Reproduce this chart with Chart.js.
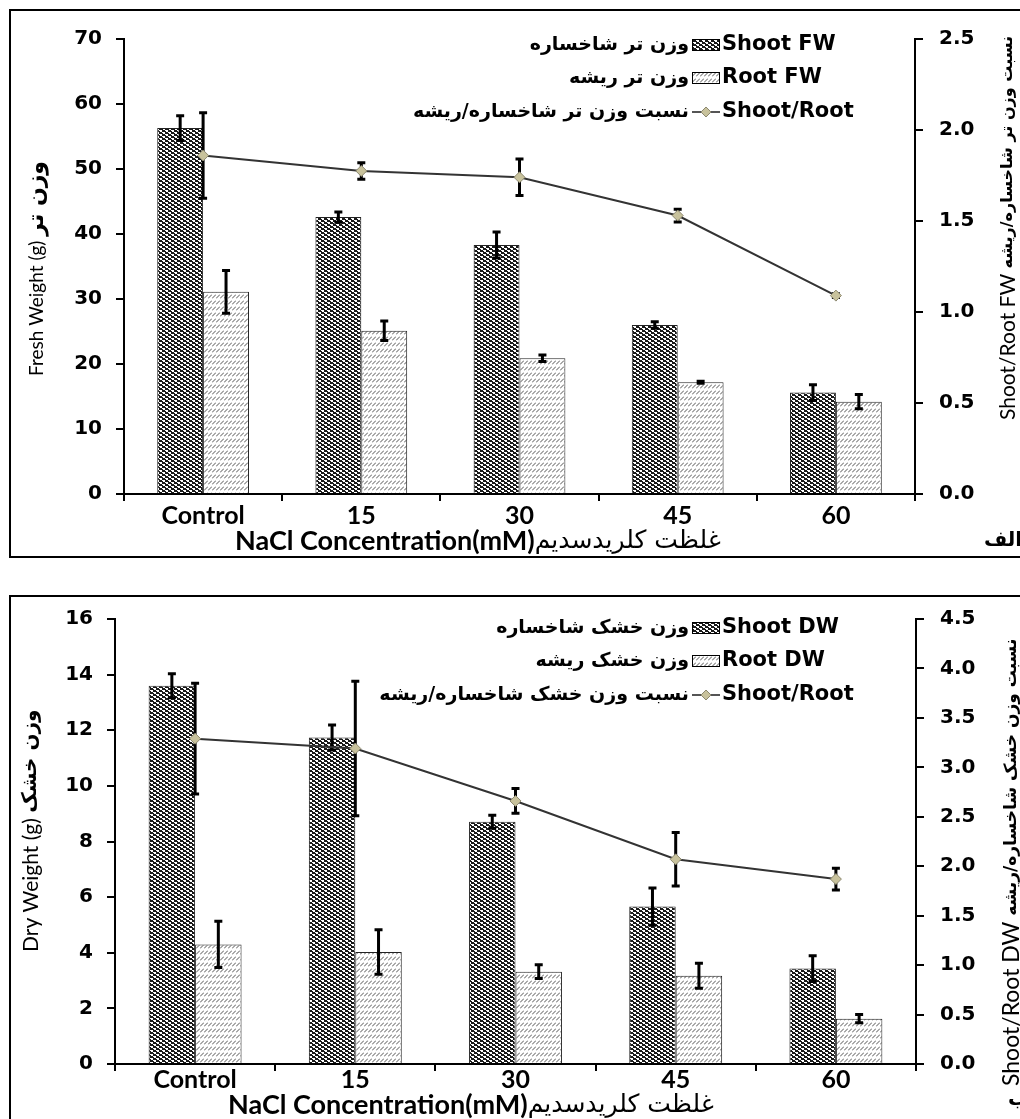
<!DOCTYPE html>
<html>
<head>
<meta charset="utf-8">
<script src="https://cdn.jsdelivr.net/npm/chart.js@4.4.1/dist/chart.umd.min.js"></script>
<style>
body { margin: 0; background: #fff; width: 1020px; height: 1119px; position: relative; overflow: hidden; }
.box { position: absolute; border: 2px solid #000; }
#box1 { left: 9px; top: 9px; width: 1040px; height: 545px; }
#box2 { left: 9px; top: 595px; width: 1040px; height: 600px; }
canvas { position: absolute; left: 0; }
#fw { top: 0; }
#dw { top: 590px; }
</style>
</head>
<body>
<div class="box" id="box1"></div>
<div class="box" id="box2"></div>
<canvas id="fw" width="1020" height="560"></canvas>
<canvas id="dw" width="1020" height="529"></canvas>
<script>
var categories = ['Control', '15', '30', '45', '60'];

// fresh weight (g) and shoot/root ratio, with error bar half-lengths
var shootFW = [56.3, 42.6, 38.3, 26.0, 15.6];
var shootFWErr = [1.9, 0.8, 2.0, 0.5, 1.2];
var rootFW = [31.1, 25.1, 20.9, 17.2, 14.2];
var rootFWErr = [3.3, 1.5, 0.5, 0.15, 1.1];
var ratioFW = [1.86, 1.775, 1.74, 1.53, 1.09];
var ratioFWErr = [0.235, 0.045, 0.1, 0.035, 0.01];

// dry weight (g) and shoot/root ratio
var shootDW = [13.6, 11.74, 8.71, 5.66, 3.43];
var shootDWErr = [0.43, 0.45, 0.23, 0.67, 0.46];
var rootDW = [4.3, 4.03, 3.32, 3.17, 1.63];
var rootDWErr = [0.83, 0.8, 0.25, 0.45, 0.15];
var ratioDW = [3.29, 3.19, 2.66, 2.07, 1.87];
var ratioDWErr = [0.56, 0.68, 0.125, 0.27, 0.11];

var TICK_FONT = { family: '"DejaVu Sans"', size: 20, weight: 'bold' };
var CAT_FONT = { family: 'Lato', size: 25, weight: 'bold' };

function dotPattern() {
  var c = document.createElement('canvas');
  c.width = 6; c.height = 4;
  var g = c.getContext('2d');
  g.fillStyle = '#1a1a1a';
  g.fillRect(0, 0, 6, 4);
  g.fillStyle = '#fff';
  g.fillRect(0, 0, 3, 1); g.fillRect(1, 1, 2, 1);
  g.fillRect(3, 2, 3, 1); g.fillRect(4, 3, 2, 1);
  return g.createPattern(c, 'repeat');
}
function hatchPattern() {
  var c = document.createElement('canvas');
  c.width = 4; c.height = 6;
  var g = c.getContext('2d');
  g.fillStyle = '#fff';
  g.fillRect(0, 0, 4, 6);
  g.strokeStyle = '#555';
  g.lineWidth = 1;
  g.beginPath(); g.moveTo(0, 4.5); g.lineTo(4, 0.5); g.stroke();
  return g.createPattern(c, 'repeat');
}
var dots = dotPattern();
var hatch = hatchPattern();

function drawErrors(chart, index) {
  var ds = chart.data.datasets[index];
  if (!ds.errors) return;
  var meta = chart.getDatasetMeta(index);
  var scale = chart.scales[meta.yAxisID];
  var ctx = chart.ctx;
  ctx.save();
  ctx.strokeStyle = '#000';
  ctx.lineWidth = 3;
  meta.data.forEach(function (el, i) {
    var t = scale.getPixelForValue(ds.data[i] + ds.errors[i]);
    var b = scale.getPixelForValue(ds.data[i] - ds.errors[i]);
    ctx.beginPath();
    ctx.moveTo(el.x, t); ctx.lineTo(el.x, b);
    ctx.moveTo(el.x - 4, t); ctx.lineTo(el.x + 4, t);
    ctx.moveTo(el.x - 4, b); ctx.lineTo(el.x + 4, b);
    ctx.stroke();
  });
  ctx.restore();
}

var errorBars = {
  id: 'errorBars',
  beforeDatasetDraw: function (chart, args) {
    if (chart.data.datasets[args.index].type === 'line') drawErrors(chart, args.index);
  },
  afterDatasetDraw: function (chart, args) {
    if (chart.data.datasets[args.index].type !== 'line') drawErrors(chart, args.index);
  }
};

// text written upward from (x, y), parts = [[text, font], ...]
function upText(ctx, x, y, parts) {
  ctx.save();
  ctx.translate(x, y);
  ctx.rotate(-Math.PI / 2);
  ctx.textAlign = 'left';
  ctx.textBaseline = 'middle';
  var pos = 0;
  parts.forEach(function (p) {
    ctx.font = p[1];
    ctx.fillText(p[0], pos, 0);
    pos += ctx.measureText(p[0]).width;
  });
  ctx.restore();
}

var decor = {
  id: 'decor',
  afterDraw: function (chart, args, o) {
    var ctx = chart.ctx;
    ctx.save();
    ctx.fillStyle = '#000';
    ctx.textBaseline = 'middle';
    o.legend.forEach(function (row) {
      var y = row.y;
      if (row.kind === 'line') {
        ctx.strokeStyle = '#555';
        ctx.lineWidth = 2;
        ctx.beginPath(); ctx.moveTo(692, y); ctx.lineTo(720, y); ctx.stroke();
        ctx.fillStyle = '#c8c29c';
        ctx.strokeStyle = '#8c8870';
        ctx.lineWidth = 1;
        ctx.beginPath();
        ctx.moveTo(706, y - 5); ctx.lineTo(711, y); ctx.lineTo(706, y + 5); ctx.lineTo(701, y);
        ctx.closePath(); ctx.fill(); ctx.stroke();
      } else {
        ctx.fillStyle = row.kind === 'shoot' ? dots : hatch;
        ctx.fillRect(692, y - 6, 28, 12);
        ctx.strokeStyle = '#000';
        ctx.lineWidth = 1;
        ctx.strokeRect(692.5, y - 5.5, 27, 11);
      }
      ctx.fillStyle = '#000';
      ctx.font = 'bold 21px "DejaVu Sans"';
      ctx.textAlign = 'left';
      ctx.fillText(row.en, 722, y);
      ctx.font = 'bold 19px "DejaVu Sans"';
      ctx.textAlign = 'right';
      ctx.fillText(row.fa, 689, y);
    });
    upText(ctx, o.leftTitle.x, o.leftTitle.y, o.leftTitle.parts);
    upText(ctx, o.rightTitle.x, o.rightTitle.y, o.rightTitle.parts);
    ctx.textAlign = 'left';
    var xt = o.xTitle, pos = xt.x;
    xt.parts.forEach(function (p) {
      ctx.font = p[1];
      ctx.fillText(p[0], pos, xt.y);
      pos += ctx.measureText(p[0]).width;
    });
    ctx.font = 'bold 20px "DejaVu Sans"';
    ctx.fillText(o.letter.text, o.letter.x, o.letter.y);
    ctx.restore();
  }
};

function buildChart(id, p) {
  return new Chart(document.getElementById(id), {
    data: {
      labels: categories,
      datasets: [{
        type: 'line',
        label: 'Shoot/Root',
        data: p.ratio,
        errors: p.ratioErr,
        yAxisID: 'y1',
        order: 0,
        borderColor: '#333',
        borderWidth: 2,
        pointStyle: 'rectRot',
        pointRadius: 5.5,
        pointBackgroundColor: '#c8c29c',
        pointBorderColor: '#8c8870',
        pointBorderWidth: 1
      }, {
        type: 'bar',
        label: p.shootLabel,
        data: p.shoot,
        errors: p.shootErr,
        yAxisID: 'y',
        order: 1,
        backgroundColor: dots,
        borderColor: '#222',
        borderWidth: 1
      }, {
        type: 'bar',
        label: p.rootLabel,
        data: p.root,
        errors: p.rootErr,
        yAxisID: 'y',
        order: 1,
        backgroundColor: hatch,
        borderColor: '#222',
        borderWidth: 1
      }]
    },
    options: {
      responsive: false,
      animation: false,
      layout: { padding: { top: p.top, left: 0, right: 0, bottom: 0 } },
      datasets: { bar: { categoryPercentage: 0.58, barPercentage: 1 } },
      scales: {
        x: {
          afterFit: function (s) { s.height = p.xHeight; },
          border: { color: '#000', width: 2 },
          grid: { drawOnChartArea: false, color: '#000', lineWidth: 2, tickLength: 7 },
          ticks: { color: '#000', font: CAT_FONT, padding: p.xPad, maxRotation: 0 }
        },
        y: {
          position: 'left',
          min: 0, max: p.yMax,
          afterFit: function (s) { s.width = p.left; },
          border: { color: '#000', width: 2 },
          grid: { drawOnChartArea: false, color: '#000', lineWidth: 2, tickLength: 8 },
          ticks: { stepSize: p.yStep, color: '#000', font: TICK_FONT, padding: 14 }
        },
        y1: {
          position: 'right',
          min: 0, max: p.y1Max,
          afterFit: function (s) { s.width = 1020 - p.right; },
          border: { color: '#000', width: 2 },
          grid: { drawOnChartArea: false, color: '#000', lineWidth: 2, tickLength: 8 },
          ticks: {
            stepSize: 0.5, color: '#000', font: TICK_FONT, padding: 16,
            callback: function (v) { return v.toFixed(1); }
          }
        }
      },
      plugins: {
        legend: { display: false },
        tooltip: { enabled: false },
        decor: p.decor
      }
    },
    plugins: [errorBars, decor]
  });
}

buildChart('fw', {
  shoot: shootFW, shootErr: shootFWErr, root: rootFW, rootErr: rootFWErr,
  ratio: ratioFW, ratioErr: ratioFWErr,
  shootLabel: 'Shoot FW', rootLabel: 'Root FW',
  yMax: 70, yStep: 10, y1Max: 2.5,
  top: 39, xHeight: 66, xPad: 0, left: 124, right: 915,
  decor: {
    legend: [
      { y: 45, kind: 'shoot', en: 'Shoot FW', fa: 'وزن تر شاخساره' },
      { y: 78, kind: 'root', en: 'Root FW', fa: 'وزن تر ریشه' },
      { y: 112, kind: 'line', en: 'Shoot/Root', fa: 'نسبت وزن تر شاخساره/ریشه' }
    ],
    leftTitle: { x: 37, y: 376, parts: [['Fresh Weight (g) ', '19px Lato'], ['وزن تر', 'bold 22px "DejaVu Sans"']] },
    rightTitle: { x: 1008, y: 420, parts: [['Shoot/Root FW ', '21px Lato'], ['نسبت وزن تر شاخساره/ریشه', 'bold 16px "DejaVu Sans"']] },
    xTitle: { x: 235, y: 541, parts: [['NaCl Concentration(mM)', 'bold 27px Lato'], ['غلظت کلریدسدیم', '25px "DejaVu Sans"']] },
    letter: { text: 'الف', x: 984, y: 541 }
  }
});

buildChart('dw', {
  shoot: shootDW, shootErr: shootDWErr, root: rootDW, rootErr: rootDWErr,
  ratio: ratioDW, ratioErr: ratioDWErr,
  shootLabel: 'Shoot DW', rootLabel: 'Root DW',
  yMax: 16, yStep: 2, y1Max: 4.5,
  top: 29, xHeight: 55, xPad: -6, left: 115, right: 916,
  decor: {
    legend: [
      { y: 38, kind: 'shoot', en: 'Shoot DW', fa: 'وزن خشک شاخساره' },
      { y: 71, kind: 'root', en: 'Root DW', fa: 'وزن خشک ریشه' },
      { y: 105, kind: 'line', en: 'Shoot/Root', fa: 'نسبت وزن خشک شاخساره/ریشه' }
    ],
    leftTitle: { x: 31, y: 362, parts: [['Dry Weight (g) ', '21px Lato'], ['وزن خشک', 'bold 20px "DejaVu Sans"']] },
    rightTitle: { x: 1012, y: 496, parts: [['Shoot/Root DW ', '23px Lato'], ['نسبت وزن خشک شاخساره/ریشه', 'bold 17px "DejaVu Sans"']] },
    xTitle: { x: 228, y: 515, parts: [['NaCl Concentration(mM)', 'bold 27px Lato'], ['غلظت کلریدسدیم', '25px "DejaVu Sans"']] },
    letter: { text: 'ب', x: 1008, y: 510 }
  }
});
</script>
</body>
</html>
